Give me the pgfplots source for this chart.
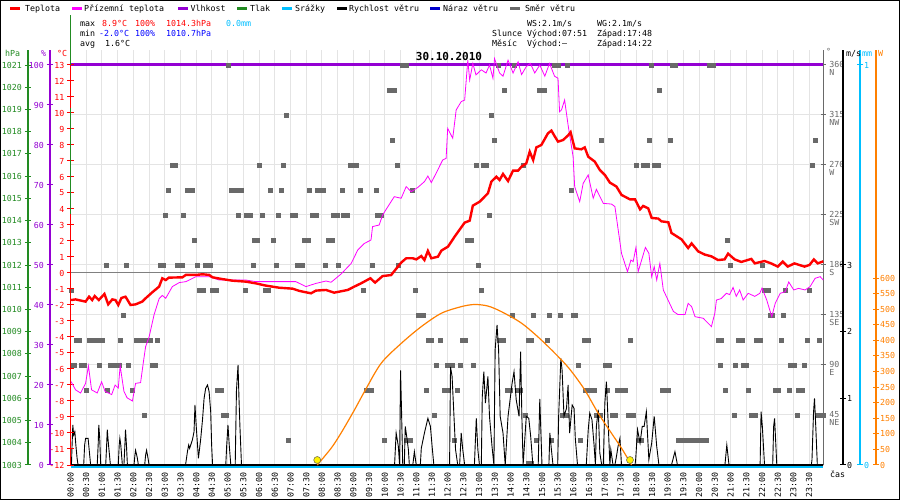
\documentclass[border=0pt]{standalone}
\usepackage{fontspec}
\setmainfont{DejaVu Sans Mono}
\usepackage{pgfplots}
\pgfplotsset{compat=1.18}
\definecolor{cT}{RGB}{255,0,0}
\definecolor{cA}{RGB}{255,0,255}
\definecolor{cH}{RGB}{148,0,211}
\definecolor{cP}{RGB}{34,139,34}
\definecolor{cR}{RGB}{0,191,255}
\definecolor{cB}{RGB}{0,0,205}
\definecolor{cD}{RGB}{105,105,105}
\definecolor{cS}{RGB}{255,128,0}
\definecolor{cG}{RGB}{228,228,228}
\newcommand\tf{\fontsize{8.3bp}{9bp}\selectfont}
\newcommand\dl[2]{\makebox[0pt][l]{\raisebox{-8bp}{#2}}#1}
\pgfplotsset{
  base/.style={scale only axis, width=752.8bp, height=415bp, xmin=0, xmax=23.95, clip=false, at={(70.5bp,35bp)}, anchor=south west},
  hid/.style={base, hide axis},
  side/.style={scale only axis, width=1bp, height=415bp, xmin=0, xmax=1, axis x line=none, anchor=south west,
     tick align=center, major tick length=6bp, yticklabel style={font=\tf}},
}
\begin{document}
\begin{tikzpicture}
\fill[white] (0,0) rectangle (900bp,500bp);

% grid and direction axis
\begin{axis}[base, ymin=0, ymax=373.5,
  axis x line*=bottom, x axis line style={draw=none},
  axis y line*=right, y axis line style={cD, line width=1.2bp, -},
  xtick={0.5,1,...,23.5}, xticklabels={}, xtick style={draw=none},
  xmajorgrids, ymajorgrids, grid style={cG, line width=1bp},
  ytick={45,90,...,360},
  yticklabels={\dl{45}{NE},\dl{90}{E},\dl{135}{SE},\dl{180}{S},\dl{225}{SW},\dl{270}{W},\dl{315}{NW},\dl{360}{N}},
  tick align=center, major tick length=5bp, ytick style={cD, line width=1bp},
  yticklabel style={font=\tf, text=cD, anchor=base west, yshift=-3bp}]
\end{axis}

% humidity
\begin{axis}[hid, ymin=0, ymax=103.75]
\addplot[cH, line width=3bp] coordinates {(0,100) (23.95,100)};
\end{axis}

% wind direction
\begin{axis}[hid, ymin=0, ymax=373.5]
\addplot[only marks, mark=square*, mark size=2bp, color=cD, mark options={fill=cD, draw=cD}] coordinates {
(5.03,360)(10.55,360)(10.67,360)(13.6,360)(14.13,360)(15.38,360)(15.5,360)(15.81,360)(18.49,360)(19.15,360)(19.25,360)(20.33,360)(20.45,360)
(10.15,337.5)(10.3,337.5)(13.8,337.5)(14.92,337.5)(15.07,337.5)(18.73,337.5)
(6.87,315)(13.39,315)
(10.23,292.5)(13.47,292.5)(16.89,292.5)(18.42,292.5)(19.09,292.5)(23.68,292.5)
(3.25,270)(3.33,270)(6.01,270)(6.78,270)(8.9,270)(9.0,270)(9.1,270)(10.39,270)(12.9,270)(13.13,270)(13.23,270)(14.41,270)(17.99,270)(18.22,270)(18.35,270)(18.57,270)(18.69,270)(23.59,270)
(3.11,247.5)(3.7,247.5)(3.79,247.5)(3.88,247.5)(5.1,247.5)(5.2,247.5)(5.3,247.5)(5.44,247.5)(6.36,247.5)(6.69,247.5)(7.6,247.5)(7.86,247.5)(7.95,247.5)(8.05,247.5)(8.64,247.5)(9.21,247.5)(9.72,247.5)(10.86,247.5)(15.92,247.5)
(3.02,225)(3.59,225)(5.34,225)(5.6,225)(5.72,225)(6.11,225)(6.62,225)(7.04,225)(7.14,225)(7.7,225)(7.81,225)(8.37,225)(8.47,225)(8.69,225)(8.81,225)(9.75,225)(9.9,225)(13.31,225)
(3.93,202.5)(5.83,202.5)(5.93,202.5)(6.45,202.5)(7.45,202.5)(7.57,202.5)(8.2,202.5)(8.32,202.5)(12.62,202.5)(12.74,202.5)(20.9,202.5)
(1.12,180)(1.77,180)(2.86,180)(2.96,180)(3.38,180)(3.46,180)(3.54,180)(4.02,180)(4.28,180)(4.36,180)(4.44,180)(5.8,180)(6.53,180)(7.2,180)(7.28,180)(7.36,180)(8.1,180)(8.52,180)(9.6,180)(10.44,180)(12.96,180)(21.0,180)(22.01,180)
(0.02,157.5)(4.1,157.5)(4.22,157.5)(4.52,157.5)(4.64,157.5)(5.55,157.5)(6.19,157.5)(6.29,157.5)(9.3,157.5)(10.96,157.5)(13.07,157.5)(22.07,157.5)(22.19,157.5)(22.74,157.5)(23.5,157.5)
(1.69,135)(11.06,135)(11.15,135)(11.23,135)(14.04,135)(14.71,135)(15.23,135)(15.57,135)(15.98,135)(16.07,135)(22.25,135)(22.33,135)(22.68,135)
(0.17,112.5)(0.29,112.5)(0.59,112.5)(0.7,112.5)(0.8,112.5)(0.87,112.5)(1.02,112.5)(1.59,112.5)(2.08,112.5)(2.18,112.5)(2.27,112.5)(2.45,112.5)(2.54,112.5)(2.77,112.5)(11.38,112.5)(11.49,112.5)(11.75,112.5)(12.46,112.5)(12.57,112.5)(13.63,112.5)(13.76,112.5)(14.56,112.5)(14.67,112.5)(15.15,112.5)(16.34,112.5)(16.46,112.5)(17.82,112.5)(20.61,112.5)(20.71,112.5)(21.25,112.5)(21.37,112.5)(21.83,112.5)(21.94,112.5)(22.6,112.5)(23.43,112.5)(23.83,112.5)
(0.07,90)(0.13,90)(0.33,90)(0.43,90)(0.91,90)(1.26,90)(1.34,90)(1.42,90)(1.5,90)(1.54,90)(1.84,90)(2.6,90)(2.69,90)(11.63,90)(11.98,90)(12.14,90)(12.4,90)(12.81,90)(16.15,90)(17.0,90)(17.13,90)(20.68,90)(21.16,90)(21.41,90)(21.51,90)(22.9,90)(23.02,90)(23.35,90)
(0.5,67.5)(1.17,67.5)(1.95,67.5)(4.68,67.5)(4.8,67.5)(9.41,67.5)(9.5,67.5)(9.58,67.5)(11.31,67.5)(11.9,67.5)(12.03,67.5)(12.3,67.5)(13.89,67.5)(13.99,67.5)(14.21,67.5)(14.31,67.5)(16.39,67.5)(16.5,67.5)(16.6,67.5)(16.67,67.5)(17.08,67.5)(17.4,67.5)(17.5,67.5)(17.6,67.5)(17.66,67.5)(18.83,67.5)(18.93,67.5)(19.01,67.5)(20.84,67.5)(21.57,67.5)(22.41,67.5)(22.51,67.5)(22.85,67.5)(23.16,67.5)(23.29,67.5)
(2.35,45)(4.86,45)(4.96,45)(11.56,45)(14.47,45)(15.65,45)(15.76,45)(16.74,45)(16.84,45)(17.22,45)(17.34,45)(17.74,45)(17.9,45)(21.11,45)(21.65,45)(21.77,45)(23.11,45)(23.75,45)(23.85,45)(23.95,45)
(6.94,22.5)(9.99,22.5)(10.67,22.5)(10.81,22.5)(12.21,22.5)(14.82,22.5)(15.3,22.5)(16.2,22.5)(18.07,22.5)(18.17,22.5)(19.34,22.5)(19.42,22.5)(19.5,22.5)(19.58,22.5)(19.66,22.5)(19.74,22.5)(19.82,22.5)(19.9,22.5)(19.98,22.5)(20.06,22.5)(20.14,22.5)(20.22,22.5)
(14.55,2)(14.65,2)
};
\end{axis}

% rain
\begin{axis}[hid, ymin=0, ymax=1.0375]
\addplot[cR, line width=1.3bp, yshift=-2bp] coordinates {(0,0) (23.95,0)};
\end{axis}

% wind speed
\begin{axis}[base, ymin=0, ymax=6.225, axis x line*=bottom, axis y line=none,
  x axis line style={black, line width=2.5bp, -}, xtick=\empty]
\addplot[black, line width=0.9bp] coordinates {
(0,0)(0.03,0)(0.05,0.3)(0.074,0.6)(0.1,0.45)(0.138,0.5)(0.17,0.3)(0.21,0.1)(0.24,0)
(0.42,0)(0.45,0.3)(0.48,0.4)(0.56,0.4)(0.6,0.2)(0.64,0)
(0.85,0)(0.88,0.3)(0.9,0.6)(0.93,0.4)(0.96,0)
(1.12,0)(1.15,0.3)(1.17,0.53)(1.2,0.35)(1.24,0.15)(1.27,0)
(1.52,0)(1.55,0.3)(1.57,0.4)(1.6,0.3)(1.65,0)
(1.7,0)(1.73,0.3)(1.75,0.53)(1.78,0.3)(1.81,0)
(2.02,0)(2.05,0.15)(2.07,0.22)(2.12,0.12)(2.16,0)
(2.36,0)(2.39,0.15)(2.42,0.22)(2.46,0.12)(2.5,0)
(3.66,0)(3.72,0.2)(3.76,0.3)(3.79,0.25)(3.88,0.38)(3.93,0.5)(3.96,0.9)(4.0,0.58)(4.07,0.1)(4.14,0.38)(4.2,0.68)(4.25,1.0)(4.3,1.15)(4.36,1.2)(4.41,1.1)(4.46,0.8)(4.49,0.3)(4.52,0)
(4.94,0)(4.97,0.3)(5.01,0.6)(5.05,0.3)(5.1,0)
(5.24,0)(5.28,1.12)(5.33,1.5)(5.36,1.0)(5.39,0.58)(5.44,0)
(10.31,0)(10.36,0.48)(10.43,0.28)(10.47,0)(10.5,1.42)(10.53,0.85)(10.57,0)(10.62,0)(10.65,0.58)(10.71,0.38)(10.75,0.23)(10.78,0)
(10.89,0)(10.94,0.2)(11.0,0)(11.13,0)(11.16,0.25)(11.26,0.48)(11.37,0.7)(11.45,0.58)(11.51,0.25)(11.56,0)
(12.06,0)(12.09,1.47)(12.14,1.33)(12.2,0.73)(12.25,0.23)(12.32,0)(12.38,0)(12.43,0.48)(12.48,0.23)(12.54,0)
(12.85,0)(12.91,0.7)(12.96,0.23)(13.01,0)(13.07,0)(13.1,1.02)(13.15,1.4)(13.2,0.93)(13.28,1.33)(13.33,0.73)(13.41,0.28)(13.47,0)
(13.51,1.73)(13.57,2.1)(13.62,1.73)(13.67,0.73)(13.76,0.48)(13.83,0)(13.92,0.73)(14.05,1.23)(14.11,1.4)(14.18,0.98)(14.27,0.73)(14.32,1.7)(14.36,0.73)(14.4,0)
(14.5,0.73)(14.58,0.7)(14.64,0.43)(14.71,0)(14.88,0)(14.93,0.99)(15.0,0)(15.22,0)(15.25,0.48)(15.3,0.23)(15.35,0)
(15.5,0)(15.53,0.73)(15.6,1.6)(15.64,1.42)(15.7,0.73)(15.78,0.85)(15.83,1.2)(15.88,0.48)(15.96,0.9)(16.02,0.85)(16.06,0.4)(16.13,0)
(16.41,0)(16.47,0.52)(16.52,0.78)(16.59,0.68)(16.66,0.28)(16.7,0)(16.73,0.58)(16.79,0.83)(16.84,0.18)(16.9,0)
(16.95,0)(17.0,0.93)(17.05,1.25)(17.11,0.58)(17.16,0)(17.19,0.23)(17.26,0)(17.32,0)(17.37,0.13)(17.42,0.28)(17.48,0.4)(17.53,0)
(17.96,0)(17.98,0.08)(18.04,0.53)(18.12,0.33)(18.19,0.58)(18.25,0.58)(18.32,0.8)(18.4,0.08)(18.49,0.33)(18.57,0.73)(18.65,0.28)(18.72,0)
(19.12,0)(19.23,0.2)(19.31,0)(20.82,0)(20.88,0.3)(20.95,0)(21.94,0)(21.97,0.8)(22.01,0.58)(22.08,0)
(22.34,0)(22.37,0.58)(22.4,0.7)(22.47,0)(23.57,0)(23.59,0.08)(23.64,0.8)(23.67,1.0)(23.71,0.58)(23.76,0)(23.95,0)
};
\end{axis}

% solar
\begin{axis}[hid, ymin=0, ymax=1331.6]
\addplot[cS, line width=1.2bp, smooth, tension=0.5] coordinates {
(7.85,0)(8.3,55)(8.61,103)(9.03,176)(9.35,235)(9.88,326)(10.52,390)(11.16,444)(11.8,487)(12.43,508)(12.85,515)(13.28,510)(13.71,492)(14.35,455)(14.98,401)(15.62,337)(15.94,300)(16.36,241)(16.79,166)(17.21,102)(17.53,54)(17.85,0)
};
\addplot[only marks, mark=*, mark size=3.5bp, mark options={fill=yellow, draw=black!60!yellow, line width=0.6bp}] coordinates {(7.85,16) (17.8,16)};
\end{axis}

% temperature
\begin{axis}[base, ymin=-12, ymax=13.9375,
  axis x line*=bottom, x axis line style={draw=none},
  axis y line*=left, y axis line style={draw=none},
  xtick={0,0.5,...,23.5}, xtick style={draw=none},
  xticklabels={00:00,00:30,01:00,01:30,02:00,02:30,03:00,03:30,04:00,04:30,05:00,05:30,06:00,06:30,07:00,07:30,08:00,08:30,09:00,09:30,10:00,10:30,11:00,11:30,12:00,12:30,13:00,13:30,14:00,14:30,15:00,15:30,16:00,16:30,17:00,17:30,18:00,18:30,19:00,19:30,20:00,20:30,21:00,21:30,22:00,22:30,23:00,23:30},
  xticklabel style={font=\tf, rotate=90, anchor=east, inner sep=1bp}, xticklabel shift=3bp,
  ytick={-12,-11,...,13},
  yticklabels={-12,-11,-10,-9,-8,-7,-6,-5,-4,-3,-2,-1,0,1,2,3,4,5,6,7,8,9,10,11,12,13},
  tick align=center, major tick length=6bp, ytick style={cT, line width=1bp},
  yticklabel style={font=\tf, text=cT, inner sep=1bp, xshift=-2bp},
  extra y ticks={0}, extra y tick labels={},
  extra y tick style={ymajorgrids=true, major grid style={draw=gray, line width=1bp}, major tick length=0bp}]
\addplot[cT, line width=1.3bp] coordinates {(0,-12) (0,13)};
\addplot[cP, line width=1.3bp] coordinates {(0,3.69) (0,10.3)};
\addplot[cP, line width=1.3bp] coordinates {(0,13) (0,16.1)};
\addplot[cA, line width=0.8bp] coordinates {
(0.02,-6.79)(0.16,-7.3)(0.32,-7.5)(0.48,-6.9)(0.57,-5.8)(0.67,-7.3)(0.85,-7.5)(0.99,-6.8)(1.1,-7.4)(1.31,-7.6)(1.42,-7.0)(1.52,-7.2)(1.58,-5.8)(1.7,-7.4)(1.8,-7.8)(1.97,-8.0)(2.07,-6.9)(2.23,-6.85)(2.32,-5.55)(2.39,-4.6)(2.5,-4.0)(2.66,-2.6)(2.82,-1.6)(2.92,-1.4)(3.03,-1.58)(3.24,-0.85)(3.46,-0.6)(3.67,-0.54)(3.99,-0.23)(4.41,-0.23)(4.73,-0.44)(5.58,-0.44)(5.9,-0.54)(7.17,-0.54)(7.49,-0.85)(7.81,-0.65)(8.13,-0.5)(8.29,-0.58)(8.61,-0.06)(8.93,0.6)(9.14,1.44)(9.35,1.85)(9.56,2.06)(9.61,2.9)(9.82,3.0)(9.93,3.62)(10.03,3.94)(10.3,4.77)(10.52,4.67)(10.68,5.4)(10.84,5.08)(11.05,5.35)(11.26,5.71)(11.37,6.06)(11.48,5.65)(11.63,6.23)(11.84,7.06)(11.95,7.17)(12.0,9.04)(12.16,8.42)(12.27,10.19)(12.43,10.71)(12.54,10.81)(12.59,12.06)(12.64,13.3)(12.7,12.06)(12.8,13.1)(12.9,12.38)(13.07,12.7)(13.22,12.5)(13.33,13.0)(13.44,12.17)(13.49,13.4)(13.65,12.5)(13.76,12.3)(13.92,13.3)(14.08,12.5)(14.24,13.2)(14.35,12.4)(14.5,12.9)(14.63,13.1)(14.77,12.5)(14.93,13.0)(15.09,12.3)(15.24,13.1)(15.4,12.3)(15.51,12.17)(15.56,10.08)(15.62,10.19)(15.72,10.81)(15.83,9.25)(15.99,7.27)(16.04,5.4)(16.2,4.46)(16.31,5.6)(16.47,6.13)(16.63,4.67)(16.73,5.23)(16.95,4.35)(17.21,4.31)(17.32,4.15)(17.53,1.23)(17.72,0.08)(17.83,0.81)(17.9,0.71)(17.99,1.6)(18.06,0.08)(18.17,0.81)(18.29,1.6)(18.4,1.23)(18.49,-0.23)(18.57,0.4)(18.65,-0.44)(18.75,0.6)(18.86,-1.06)(19.18,-2.4)(19.33,-2.6)(19.55,-2.6)(19.65,-1.9)(19.76,-2.1)(19.87,-2.73)(20.13,-2.83)(20.39,-3.35)(20.5,-2.5)(20.55,-1.69)(20.7,-1.6)(20.87,-1.27)(20.97,-1.35)(21.08,-0.9)(21.18,-1.46)(21.29,-1.06)(21.4,-1.69)(21.56,-1.27)(21.77,-1.46)(21.93,-1.27)(22.0,-0.94)(22.15,-1.69)(22.31,-2.73)(22.42,-1.9)(22.58,-1.27)(22.74,-1.17)(22.85,-0.56)(23.01,-1.06)(23.16,-0.96)(23.37,-1.06)(23.53,-0.85)(23.69,-0.33)(23.85,-0.23)(23.95,-0.44)
};
\addplot[cT, line width=2.4bp] coordinates {
(0.02,-1.69)(0.16,-1.65)(0.48,-1.79)(0.59,-1.48)(0.69,-1.69)(0.77,-1.44)(0.9,-1.69)(1.08,-1.31)(1.2,-1.96)(1.33,-1.65)(1.43,-1.69)(1.52,-2.0)(1.62,-1.56)(1.75,-1.48)(1.91,-2.0)(2.07,-1.96)(2.28,-1.79)(2.39,-1.58)(2.6,-1.21)(2.82,-0.85)(2.92,-0.33)(3.03,-0.44)(3.13,-0.29)(3.56,-0.27)(3.67,-0.12)(3.99,-0.12)(4.2,-0.08)(4.41,-0.12)(4.52,-0.27)(4.83,-0.38)(5.15,-0.48)(5.58,-0.54)(5.9,-0.65)(6.22,-0.79)(6.64,-0.92)(7.07,-0.98)(7.28,-1.12)(7.65,-1.27)(7.81,-1.1)(8.13,-1.06)(8.39,-1.23)(8.82,-1.06)(9.03,-0.85)(9.24,-0.65)(9.54,-0.33)(9.69,-0.6)(9.93,-0.19)(10.2,-0.13)(10.52,0.65)(10.68,0.92)(10.89,0.92)(11.0,0.85)(11.16,1.06)(11.26,0.81)(11.37,1.38)(11.48,0.92)(11.69,1.02)(11.8,1.4)(12.01,1.65)(12.22,2.27)(12.54,3.15)(12.7,3.27)(12.8,4.21)(13.02,4.46)(13.28,4.98)(13.39,5.71)(13.55,6.02)(13.65,5.81)(13.76,6.19)(13.92,5.75)(14.08,6.4)(14.24,6.4)(14.35,6.65)(14.5,6.85)(14.61,7.58)(14.72,7.06)(14.82,7.85)(14.98,8.0)(15.19,8.73)(15.3,8.9)(15.4,8.56)(15.51,8.21)(15.67,8.31)(15.83,8.6)(15.91,8.8)(16.04,7.79)(16.25,7.73)(16.36,7.85)(16.47,7.27)(16.68,6.96)(16.84,6.44)(17.0,6.13)(17.16,5.65)(17.37,5.4)(17.53,4.88)(17.8,4.6)(17.96,4.6)(18.12,3.98)(18.22,4.19)(18.38,4.04)(18.49,3.44)(18.7,3.4)(18.8,3.23)(19.02,3.17)(19.12,2.5)(19.44,2.1)(19.65,1.56)(19.76,1.85)(19.97,1.35)(20.18,1.15)(20.39,1.04)(20.6,0.81)(20.81,0.85)(20.92,1.21)(21.13,0.85)(21.34,0.69)(21.66,0.88)(21.77,0.6)(22.08,0.75)(22.29,0.6)(22.5,0.4)(22.66,0.71)(22.82,0.4)(23.03,0.6)(23.35,0.4)(23.51,0.5)(23.65,0.85)(23.77,0.6)(23.95,0.73)
};
\end{axis}

% side axes
\begin{axis}[side, at={(28bp,35bp)}, ymin=1003, ymax=1021.675, axis y line*=left,
  y axis line style={cP, line width=1.3bp, -}, ytick={1003,1004,...,1021},
  yticklabels={1003,1004,1005,1006,1007,1008,1009,1010,1011,1012,1013,1014,1015,1016,1017,1018,1019,1020,1021},
  ytick style={cP, line width=1bp}, yticklabel style={text=cP, inner sep=1bp, xshift=-2bp}]
\end{axis}
\begin{axis}[side, at={(50bp,35bp)}, ymin=0, ymax=103.75, axis y line*=left,
  y axis line style={cH, line width=1.3bp, -}, ytick={0,10,...,100},
  yticklabels={0,10,20,30,40,50,60,70,80,90,100},
  ytick style={cH, line width=1bp}, yticklabel style={text=cH, inner sep=1bp, xshift=-2bp}]
\end{axis}
\begin{axis}[side, at={(842bp,35bp)}, ymin=0, ymax=6.225, axis y line*=right,
  y axis line style={black, line width=1.3bp, -}, ytick={0,1,2,3}, yticklabels={0,1,2,3},
  ytick style={black, line width=1bp}, yticklabel style={text=black, inner sep=1bp}]
\end{axis}
\begin{axis}[side, at={(859bp,35bp)}, ymin=0, ymax=1.0375, axis y line*=right,
  y axis line style={cR, line width=1.3bp, -}, ytick={0,1}, yticklabels={0,1},
  ytick style={cR, line width=1bp}, yticklabel style={text=cR, inner sep=1bp}]
\end{axis}
\begin{axis}[side, at={(875bp,35bp)}, ymin=0, ymax=1331.6, axis y line*=right,
  y axis line style={cS, line width=1.3bp, -}, ytick={0,50,...,600},
  yticklabels={0,50,100,150,200,250,300,350,400,450,500,550,600},
  ytick style={cS, line width=1bp}, yticklabel style={text=cS, inner sep=1bp}]
\end{axis}

\begin{scope}[x=1bp, y=1bp]
% legend
\foreach \x/\c in {10/cT,72/cA,178/cH,237/cP,282/cR,337/black,430/cB,510/cD}
  \draw[\c, line width=3bp] (\x,491) -- ++(10,0);
\begin{scope}[every node/.style={font=\tf, anchor=base west, inner sep=0pt}]
\node at (25,488) {Teplota};
\node at (84,488) {Přízemní teplota};
\node at (190.5,488) {Vlhkost};
\node at (250,488) {Tlak};
\node at (295,488) {Srážky};
\node at (349,488) {Rychlost větru};
\node at (443,488) {Náraz větru};
\node at (525,488) {Směr větru};
% info
\node at (80,473) {max};
\node[text=cT] at (102,473) {8.9°C};
\node[text=cT] at (135,473) {100\%};
\node[text=cT] at (166,473) {1014.3hPa};
\node[text=cR] at (226,473) {0.0mm};
\node at (80,463) {min};
\node[text=blue] at (99,463) {-2.0°C};
\node[text=blue] at (135,463) {100\%};
\node[text=blue] at (166,463) {1010.7hPa};
\node at (80,453) {avg};
\node at (105,453) {1.6°C};
\node at (527,473) {WS:2.1m/s};
\node at (597,473) {WG:2.1m/s};
\node at (492,463) {Slunce};
\node at (527,463) {Východ:07:51};
\node at (597,463) {Západ:17:48};
\node at (492,453) {Měsíc};
\node at (527,453) {Východ:--};
\node at (597,453) {Západ:14:22};
% axis titles
\node[text=cP] at (5,443) {hPa};
\node[text=cH] at (41,443) {\%};
\node[text=cT] at (57,443) {°C};
\node[text=cD] at (826,445) {°};
\node at (846,443) {m/s};
\node[text=cR] at (862,443) {mm};
\node[text=cS] at (878,443) {W};
\node at (830,23) {čas};
\end{scope}
\node[font=\fontsize{11bp}{12bp}\selectfont\bfseries, anchor=base, inner sep=0pt] at (449,439) {30.10.2010};
\draw[black, line width=1bp] (0.5,0.5) rectangle (899.5,499.5);
\end{scope}
\end{tikzpicture}
\end{document}
